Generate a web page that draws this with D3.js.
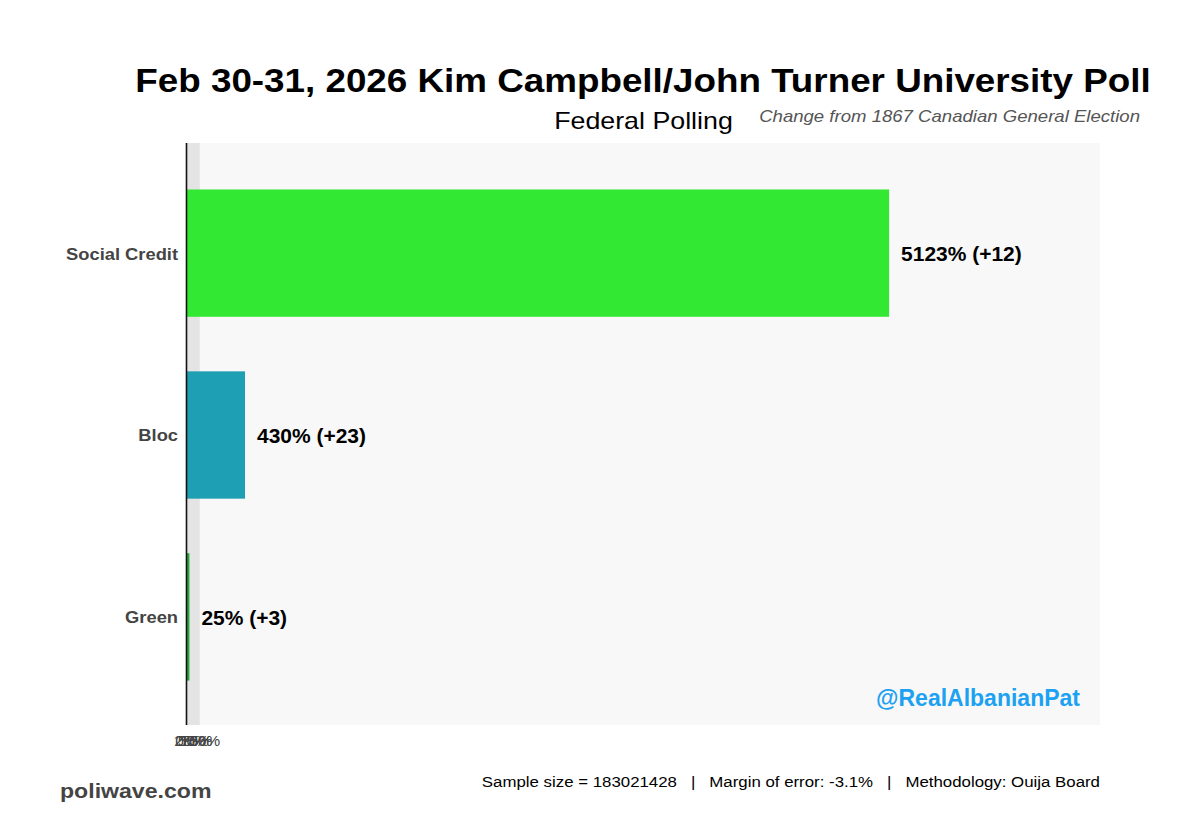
<!DOCTYPE html>
<html><head><meta charset="utf-8">
<script src="https://cdn.jsdelivr.net/npm/d3@7"></script>
<style>body{margin:0;background:#fff;} svg{display:block;font-family:"Liberation Sans",Arial,sans-serif;}</style>
</head><body>
<svg id="c" width="1200" height="840"></svg>
<script>
const categories = ["Social Credit", "Bloc", "Green"];
const values = [5123, 430, 25];
const changes = ["+12", "+23", "+3"];
const colors = ["#32e832", "#1e9fb4", "#23a83a"];
const tickValues = [0, 25, 50, 75, 100];
const tickLabels = ["0%", "25%", "50%", "75%", "100%"];

const svg = d3.select("#c");
const m = {left: 186, right: 1100, top: 143, bottom: 725};

// widen glyphs horizontally to match reference's wider rendering
function stretch(sel, f) {
  sel.each(function() {
    const w = this.getComputedTextLength();
    d3.select(this).attr("textLength", w * f).attr("lengthAdjust", "spacingAndGlyphs");
  });
  return sel;
}

const x = d3.scaleLinear().domain([0, d3.max(values) * 1.3]).range([m.left, m.right]);
const y = d3.scaleBand().domain(categories).range([m.top, m.bottom]).paddingInner(0.3).paddingOuter(0.25);

// panel
svg.append("rect").attr("x", m.left).attr("y", m.top).attr("width", m.right - m.left)
  .attr("height", m.bottom - m.top).attr("fill", "#f8f8f8");
// 0-100 band
svg.append("rect").attr("x", x(0)).attr("y", m.top).attr("width", x(100) - x(0))
  .attr("height", m.bottom - m.top).attr("fill", "#e4e4e4");

// bars
svg.selectAll(".bar").data(categories).enter().append("rect")
  .attr("x", x(0)).attr("y", d => y(d) + 1).attr("height", y.bandwidth())
  .attr("width", (d, i) => x(values[i]) - x(0)).attr("fill", (d, i) => colors[i]);

// value labels
stretch(svg.selectAll(".vl").data(categories).enter().append("text")
  .attr("x", (d, i) => x(values[i]) + 12).attr("y", d => y(d) + 1 + y.bandwidth() / 2)
  .attr("dy", "0.4em").attr("font-size", 19.5).attr("font-weight", "bold").attr("fill", "#000")
  .text((d, i) => `${values[i]}% (${changes[i]})`), 1.075);

// y axis
const ya = svg.append("g").attr("transform", `translate(${m.left},1)`)
  .call(d3.axisLeft(y).tickSize(0).tickPadding(8));
ya.select(".domain").remove();
ya.selectAll("text").attr("font-size", 17).attr("font-weight", "bold").attr("fill", "#444")
  .attr("dy", "0.38em").attr("font-family", "Liberation Sans, Arial, sans-serif");
stretch(ya.selectAll("text"), 1.077);
svg.append("line").attr("x1", m.left + 0.5).attr("x2", m.left + 0.5).attr("y1", m.top).attr("y2", m.bottom)
  .attr("stroke", "#111").attr("stroke-width", 1.6);

// x axis
const xa = svg.append("g").attr("transform", `translate(0,${m.bottom})`)
  .call(d3.axisBottom(x).tickValues(tickValues).tickFormat((d, i) => tickLabels[i]).tickSize(0).tickPadding(11));
xa.select(".domain").remove();
xa.selectAll("text").attr("font-size", 14.5).attr("fill", "#444")
  .attr("font-family", "Liberation Sans, Arial, sans-serif");
stretch(xa.selectAll("text"), 1.08);

// titles
stretch(svg.append("text").attr("x", 643).attr("y", 92).attr("text-anchor", "middle")
  .attr("font-size", 34).attr("font-weight", "bold").attr("fill", "#000")
  .text("Feb 30-31, 2026 Kim Campbell/John Turner University Poll"), 1.082);
stretch(svg.append("text").attr("x", 643.5).attr("y", 129).attr("text-anchor", "middle")
  .attr("font-size", 24).attr("fill", "#000").text("Federal Polling"), 1.116);
stretch(svg.append("text").attr("x", 1140).attr("y", 122).attr("text-anchor", "end")
  .attr("font-size", 17).attr("font-style", "italic").attr("fill", "#555")
  .text("Change from 1867 Canadian General Election"), 1.092);

// watermark
svg.append("text").attr("x", 1080).attr("y", 706).attr("text-anchor", "end")
  .attr("font-size", 23).attr("font-weight", "bold").attr("fill", "#1da1f2").text("@RealAlbanianPat");

// footer
stretch(svg.append("text").attr("x", 60).attr("y", 798).attr("font-size", 21).attr("font-weight", "bold")
  .attr("fill", "#444").text("poliwave.com"), 1.10);
stretch(svg.append("text").attr("x", 1100).attr("y", 787).attr("text-anchor", "end").attr("font-size", 15.3)
  .attr("fill", "#000").attr("xml:space", "preserve")
  .text("Sample size = 183021428   |   Margin of error: -3.1%   |   Methodology: Ouija Board"), 1.10);
</script>
</body></html>
